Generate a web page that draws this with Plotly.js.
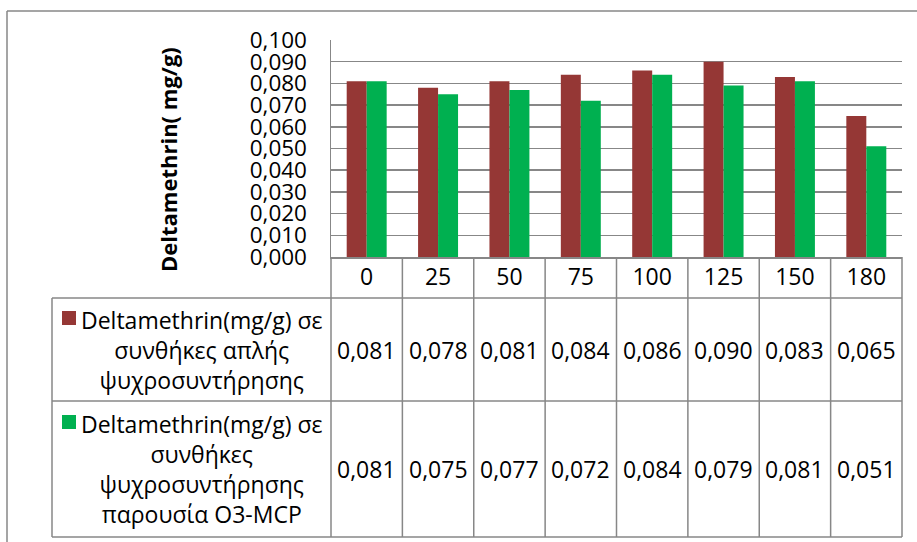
<!DOCTYPE html>
<html>
<head>
<meta charset="utf-8">
<script src="https://cdn.plot.ly/plotly-3.0.1.min.js"></script>
<style>html,body{margin:0;padding:0;background:#fff;}#chart{width:917px;height:542px;}</style>
</head>
<body>
<div id="chart"></div>
<script>
// ---- data ----
const categories = ['0', '25', '50', '75', '100', '125', '150', '180'];
const seriesNames = [
  'Deltamethrin(mg/g) σε συνθήκες απλής ψυχροσυντήρησης',
  'Deltamethrin(mg/g) σε συνθήκες ψυχροσυντήρησης παρουσία O3-MCP'
];
const seriesLabelLines1 = ['Deltamethrin(mg/g) σε', 'συνθήκες απλής', 'ψυχροσυντήρησης'];
const seriesLabelLines2 = ['Deltamethrin(mg/g) σε', 'συνθήκες', 'ψυχροσυντήρησης', 'παρουσία O3-MCP'];
const valuesSimple = [0.081, 0.078, 0.081, 0.084, 0.086, 0.090, 0.083, 0.065];
const valuesO3MCP  = [0.081, 0.075, 0.077, 0.072, 0.084, 0.079, 0.081, 0.051];
const yTitle = 'Deltamethrin( mg/g)';

// ---- style / layout helpers ----
const FONT = 'Open Sans, Liberation Sans, sans-serif';
const colors = ['#953735', '#00B050'];
const gridColor = '#878787';
const W = 917, H = 542;
const L = 331, R = 902, T = 40, B = 257;
const pxX = p => (p - L) / (R - L);
const pxY = p => (B - p) / (B - T);

const rowTops = [298, 401];
const rowBottoms = [401, 537];
const fmt = v => v.toFixed(3).replace('.', ',');

const traces = [valuesSimple, valuesO3MCP].map((vals, k) => ({
  type: 'bar',
  x: categories,
  y: vals,
  name: seriesNames[k],
  marker: {color: colors[k], line: {width: 0}},
  hoverinfo: 'x+y'
}));

const lineStyle = {color: gridColor, width: 1.5};
const shapes = [];
// outer chart border (left and top)
shapes.push({type: 'line', xref: 'paper', yref: 'paper', x0: pxX(7), x1: pxX(7), y0: pxY(11), y1: pxY(560), line: lineStyle});
shapes.push({type: 'line', xref: 'paper', yref: 'paper', x0: pxX(7), x1: pxX(930), y0: pxY(11), y1: pxY(11), line: lineStyle});
// data table horizontal lines
[298, 401, 537].forEach(yy => {
  shapes.push({type: 'line', xref: 'paper', yref: 'paper', x0: pxX(52), x1: 1, y0: pxY(yy), y1: pxY(yy), line: lineStyle});
});
// legend column left edge
shapes.push({type: 'line', xref: 'paper', yref: 'paper', x0: pxX(52), x1: pxX(52), y0: pxY(298), y1: pxY(537), line: lineStyle});
// left edge of value columns
shapes.push({type: 'line', xref: 'paper', yref: 'paper', x0: 0, x1: 0, y0: pxY(257), y1: pxY(537), line: lineStyle});
// right edge
shapes.push({type: 'line', xref: 'paper', yref: 'paper', x0: 1, x1: 1, y0: pxY(257), y1: pxY(537), line: lineStyle});
// category boundaries (through the category axis, index based)
for (let i = 1; i < categories.length; i++) {
  shapes.push({type: 'line', xref: 'x', yref: 'paper', x0: i - 0.5, x1: i - 0.5, y0: pxY(257), y1: pxY(537), line: lineStyle});
}
// legend keys
const keyTops = [311, 415];
keyTops.forEach((kt, k) => {
  shapes.push({type: 'rect', xref: 'paper', yref: 'paper', x0: pxX(62), x1: pxX(76), y0: pxY(kt), y1: pxY(kt + 14),
    fillcolor: colors[k], line: {width: 0}});
});

const annotations = [];
// y-axis title
annotations.push({xref: 'paper', yref: 'paper', x: pxX(168), y: pxY(160), text: '<b>' + yTitle + '</b>',
  textangle: -90, showarrow: false, xanchor: 'center', yanchor: 'middle',
  font: {family: FONT, size: 22, color: '#000'}});
// series labels in table
[seriesLabelLines1, seriesLabelLines2].forEach((lines, k) => {
  annotations.push({xref: 'paper', yref: 'paper', x: pxX(202), y: pxY((rowTops[k] + rowBottoms[k]) / 2),
    text: lines.join('<br>'), showarrow: false, xanchor: 'center', yanchor: 'middle', align: 'center',
    font: {family: FONT, size: 23, color: '#000'}});
});
// table values (x given as category index on the category axis)
[valuesSimple, valuesO3MCP].forEach((vals, k) => {
  vals.forEach((v, i) => {
    annotations.push({xref: 'x', yref: 'paper', x: i, y: pxY((rowTops[k] + rowBottoms[k]) / 2),
      text: fmt(v), showarrow: false, xanchor: 'center', yanchor: 'middle',
      font: {family: FONT, size: 23, color: '#000'}});
  });
});

const layout = {
  width: W, height: H,
  margin: {l: L, r: W - R, t: T, b: H - B, pad: 0},
  paper_bgcolor: '#fff', plot_bgcolor: '#fff',
  separators: ',.',
  showlegend: false,
  barmode: 'group',
  bargap: 0.44,
  bargroupgap: 0,
  font: {family: FONT, size: 23, color: '#000'},
  xaxis: {
    type: 'category', categoryorder: 'array', categoryarray: categories,
    range: [-0.5, categories.length - 0.5], autorange: false,
    showgrid: false, zeroline: false, showline: true, linecolor: gridColor, linewidth: 1.5,
    ticks: '', ticklabelstandoff: -1,
    tickfont: {family: FONT, size: 23, color: '#000'}, fixedrange: true
  },
  yaxis: {
    range: [0, 0.1], autorange: false, dtick: 0.01, tick0: 0, tickformat: '.3f',
    showgrid: true, gridcolor: gridColor, gridwidth: 1.5,
    zeroline: false, showline: true, linecolor: gridColor, linewidth: 1.5,
    ticks: '', ticklabelstandoff: 18,
    tickfont: {family: FONT, size: 22.5, color: '#000'}, fixedrange: true
  },
  shapes: shapes,
  annotations: annotations
};

Plotly.newPlot('chart', traces, layout, {displayModeBar: false, staticPlot: true});
</script>
</body>
</html>
